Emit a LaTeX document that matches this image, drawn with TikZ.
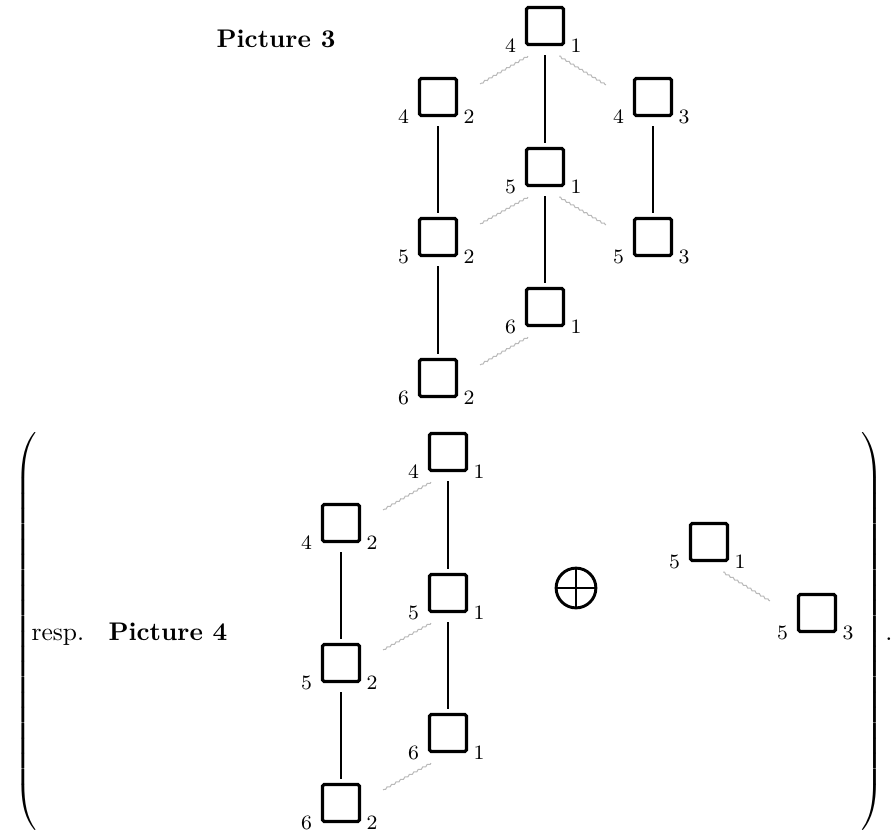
\documentclass[tikz,border=0pt]{standalone}
\usepackage{amssymb}
\usetikzlibrary{decorations.pathmorphing}
\begin{document}
\begin{tikzpicture}[x=0.392pt,y=-0.392pt]
    \tikzstyle{sq}=[draw,line width=1.25pt,minimum size=14.5pt,inner sep=0pt,rounded corners=0.6pt]
    \tikzstyle{lab}=[inner sep=0pt,font=\footnotesize]
    \tikzstyle{wig}=[gray!55,decorate,decoration={zigzag,amplitude=0.3pt,segment length=2pt}]
    \tikzstyle{vert}=[shorten <=3.5pt,shorten >=1.6pt]
    \tikzset{nums/.style 2 args={label={[lab,anchor=east,xshift=-3.3pt]south west:#1},
        label={[lab,anchor=west,xshift=2pt]south east:#2}}}
    \useasboundingbox (0,0) rectangle (891,834);

    \node[font=\bfseries,anchor=base] (title3) at (276,47.5) {Picture 3};
    \node[sq,nums={4}{1}] (a41) at (545,26) {};
    \node[sq,nums={4}{2}] (a42) at (438,97) {};
    \node[sq,nums={4}{3}] (a43) at (653,97) {};
    \node[sq,nums={5}{1}] (a51) at (545,167) {};
    \node[sq,nums={5}{2}] (a52) at (438,237) {};
    \node[sq,nums={5}{3}] (a53) at (653,237) {};
    \node[sq,nums={6}{1}] (a61) at (545,307) {};
    \node[sq,nums={6}{2}] (a62) at (438,378) {};
    \draw[vert] (a41.south) -- (a51.north);
    \draw[vert] (a51.south) -- (a61.north);
    \draw[vert] (a42.south) -- (a52.north);
    \draw[vert] (a52.south) -- (a62.north);
    \draw[vert] (a43.south) -- (a53.north);
    \draw[wig] ([shift={(3,10)}]a41.south west) -- ([shift={(22,7)}]a42.north east);
    \draw[wig] ([shift={(-6,10)}]a41.south east) -- ([shift={(-27,8)}]a43.north west);
    \draw[wig] ([shift={(3,10)}]a51.south west) -- ([shift={(22,7)}]a52.north east);
    \draw[wig] ([shift={(-6,10)}]a51.south east) -- ([shift={(-27,8)}]a53.north west);
    \draw[wig] ([shift={(3,10)}]a61.south west) -- ([shift={(22,7)}]a62.north east);

    \node[inner sep=0pt,anchor=west] (lpar) at (14,632) {$\left(\vrule height 76pt depth 76pt width 0pt\right.$};
    \node[inner sep=0pt,anchor=east] (rpar) at (884,632) {$\left.\vrule height 76pt depth 76pt width 0pt\right)$};
    \node[inner sep=0pt,anchor=base west] (resp) at (31,640.5) {resp.};
    \node[inner sep=0pt,anchor=base west,font=\bfseries] (title4) at (108,640.5) {Picture 4};
    \node[inner sep=0pt,anchor=base] (stop) at (889,640.5) {.};

    \node[sq,nums={4}{1}] (b41) at (448,452) {};
    \node[sq,nums={4}{2}] (b42) at (341,523) {};
    \node[sq,nums={5}{1}] (b51) at (448,593) {};
    \node[sq,nums={5}{2}] (b52) at (341,663) {};
    \node[sq,nums={6}{1}] (b61) at (448,733) {};
    \node[sq,nums={6}{2}] (b62) at (341,803) {};
    \draw[vert] (b41.south) -- (b51.north);
    \draw[vert] (b51.south) -- (b61.north);
    \draw[vert] (b42.south) -- (b52.north);
    \draw[vert] (b52.south) -- (b62.north);
    \draw[wig] ([shift={(3,10)}]b41.south west) -- ([shift={(22,7)}]b42.north east);
    \draw[wig] ([shift={(3,10)}]b51.south west) -- ([shift={(22,7)}]b52.north east);
    \draw[wig] ([shift={(3,10)}]b61.south west) -- ([shift={(22,7)}]b62.north east);

    \node[circle,draw,line width=1.15pt,minimum size=15.6pt,inner sep=0pt,outer sep=0pt] (plus) at (576,588) {};
    \draw[line width=1.15pt] (plus.north) -- (plus.south) (plus.west) -- (plus.east);

    \node[sq,nums={5}{1}] (c51) at (709,542) {};
    \node[sq,nums={5}{3}] (c53) at (817,613) {};
    \draw[wig] ([shift={(-6,10)}]c51.south east) -- ([shift={(-27,8)}]c53.north west);
\end{tikzpicture}
\end{document}
